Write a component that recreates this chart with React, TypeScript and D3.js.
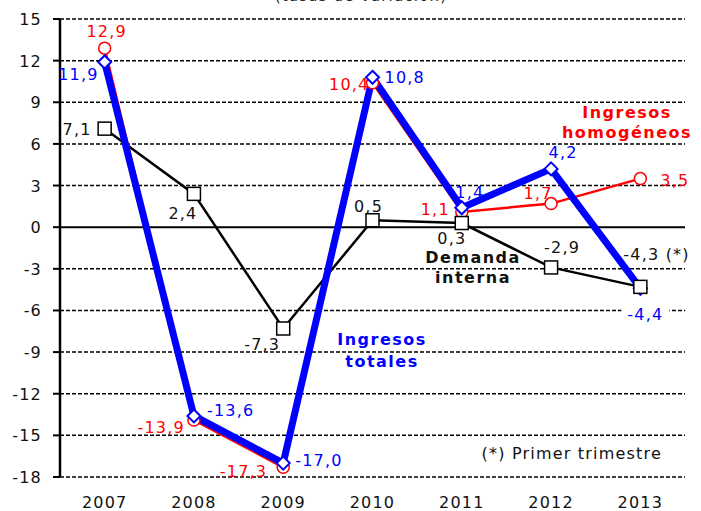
import * as d3 from "d3";

// años del eje x
const years = ["2007", "2008", "2009", "2010", "2011", "2012", "2013"];
const yTicks = [15, 12, 9, 6, 3, 0, -3, -6, -9, -12, -15, -18];

// series (tasas de variación)
const demandaInterna = [7.1, 2.4, -7.3, 0.5, 0.3, -2.9, -4.3];
const ingresosHomogeneos = [12.9, -13.9, -17.3, 10.4, 1.1, 1.7, 3.5];
const ingresosTotales = [11.9, -13.6, -17.0, 10.8, 1.4, 4.2, -4.4];

// desplazamiento de cada etiqueta respecto a su punto
type Off = { dx: number; dy: number; a: "start" | "middle" | "end"; suffix?: string; bg?: boolean };
const blackOff: Off[] = [
  { dx: -13, dy: 6, a: "end" },
  { dx: -11, dy: 25, a: "middle" },
  { dx: -21, dy: 22, a: "middle" },
  { dx: -4, dy: -8, a: "middle" },
  { dx: -10, dy: 21, a: "middle" },
  { dx: 11, dy: -14, a: "middle" },
  { dx: -17, dy: -27, a: "start", suffix: " (*)" },
];
const redOff: Off[] = [
  { dx: 2, dy: -11, a: "middle" },
  { dx: -9, dy: 13, a: "end" },
  { dx: -16, dy: 10, a: "end" },
  { dx: -3, dy: 7, a: "end" },
  { dx: -12, dy: 3, a: "end" },
  { dx: -13, dy: -5, a: "middle" },
  { dx: 20, dy: 7, a: "start" },
];
const blueOff: Off[] = [
  { dx: -6, dy: 18, a: "end" },
  { dx: 13, dy: 0, a: "start" },
  { dx: 12, dy: 3, a: "start" },
  { dx: 12, dy: 6, a: "start" },
  { dx: 8, dy: -10, a: "middle" },
  { dx: 12, dy: -11, a: "middle" },
  { dx: 5, dy: 32, a: "middle", bg: true },
];

const W = 701;
const H = 511;
const FONT = "'DejaVu Sans', Verdana, sans-serif";
const RED = "#ff0000";
const BLUE = "#0000ff";

const fmt = (v: number) => v.toFixed(1).replace(".", ",");

const App = () => {
  const x = d3.scalePoint<string>().domain(years).range([60, 685]).padding(0.5);
  const y = d3.scaleLinear().domain([-18, 15]).range([477, 19]);

  const line = d3
    .line<number>()
    .x((_d, i) => x(years[i])!)
    .y((d) => y(d));

  const labels = (vals: number[], offs: Off[], color: string) =>
    vals.map((v, i) => {
      const o = offs[i];
      const px = x(years[i])! + o.dx;
      const py = y(v) + o.dy;
      const txt = fmt(v) + (o.suffix ?? "");
      return (
        <g key={color + i}>
          {o.bg && <rect x={px - 24} y={py - 14} width={48} height={18} fill="#fff" />}
          <text x={px} y={py} textAnchor={o.a} fill={color}>
            {txt}
          </text>
        </g>
      );
    });

  return (
    <svg
      width={W}
      height={H}
      style={{ position: "absolute", left: 0, top: 0, background: "#fff" }}
      fontFamily={FONT}
      fontSize={16}
      letterSpacing={1.2}
    >
      <text x={361} y={1} textAnchor="middle" fill="#222" fontSize={15}>
        (tasas de variación)
      </text>

      {/* rejilla */}
      {yTicks.map((t) => (
        <line
          key={t}
          x1={60}
          x2={685}
          y1={y(t)}
          y2={y(t)}
          stroke="#000"
          strokeWidth={t === 0 ? 2 : 1.5}
          strokeDasharray={t === 0 ? undefined : "4,2"}
        />
      ))}

      {/* eje y */}
      <line x1={60} x2={60} y1={y(15)} y2={y(-18)} stroke="#000" strokeWidth={2.5} />
      {yTicks.map((t) => (
        <g key={"t" + t}>
          <line x1={53} x2={60} y1={y(t)} y2={y(t)} stroke="#000" strokeWidth={2} />
          <text x={42} y={y(t) + 6} textAnchor="end" fill="#111">
            {t}
          </text>
        </g>
      ))}

      {/* eje x */}
      {years.map((yr) => (
        <text key={yr} x={x(yr)!} y={508} textAnchor="middle" fill="#111">
          {yr}
        </text>
      ))}

      {/* líneas */}
      <path d={line(demandaInterna)!} fill="none" stroke="#000" strokeWidth={2.5} />
      <path d={line(ingresosHomogeneos)!} fill="none" stroke={RED} strokeWidth={2.5} />
      <path
        d={line(ingresosTotales)!}
        fill="none"
        stroke={BLUE}
        strokeWidth={7}
        strokeLinejoin="round"
      />

      {/* marcadores */}
      {ingresosHomogeneos.map((v, i) => (
        <circle key={"c" + i} cx={x(years[i])!} cy={y(v)} r={6} fill="#fff" stroke={RED} strokeWidth={1.5} />
      ))}
      {ingresosTotales.map((v, i) => {
        const cx = x(years[i])!;
        const cy = y(v);
        return (
          <path
            key={"d" + i}
            d={`M${cx},${cy - 6.5}L${cx + 6.5},${cy}L${cx},${cy + 6.5}L${cx - 6.5},${cy}Z`}
            fill="#fff"
            stroke={BLUE}
            strokeWidth={2}
          />
        );
      })}
      {demandaInterna.map((v, i) => (
        <rect
          key={"s" + i}
          x={x(years[i])! - 6.5}
          y={y(v) - 6.5}
          width={13}
          height={13}
          fill="#fff"
          stroke="#000"
          strokeWidth={1.5}
        />
      ))}

      {/* etiquetas de datos */}
      {labels(demandaInterna, blackOff, "#111")}
      {labels(ingresosHomogeneos, redOff, RED)}
      {labels(ingresosTotales, blueOff, BLUE)}

      {/* nombres de series */}
      <g fontWeight="bold" textAnchor="middle" letterSpacing={1.5}>
        <text x={627} y={118} fill={RED}>Ingresos</text>
        <text x={627} y={138} fill={RED}>homogéneos</text>
        <text x={473} y={263} fill="#111">Demanda</text>
        <text x={473} y={283} fill="#111">interna</text>
        <text x={382} y={345} fill={BLUE}>Ingresos</text>
        <text x={382} y={367} fill={BLUE}>totales</text>
      </g>

      <text x={662} y={459} textAnchor="end" fill="#111">
        (*) Primer trimestre
      </text>
    </svg>
  );
};

export default App;
